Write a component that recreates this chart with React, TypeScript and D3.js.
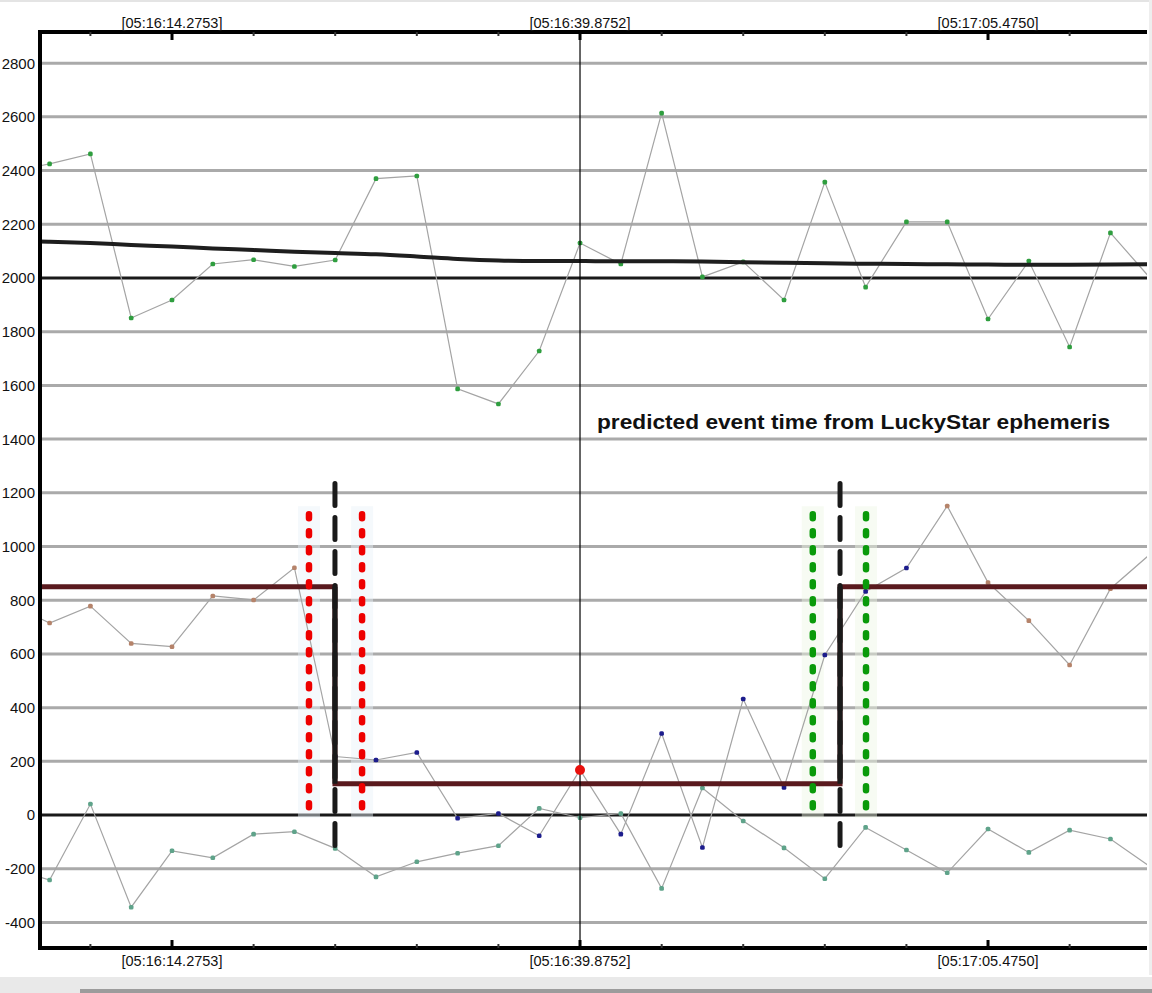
import { useMemo } from "react";
import * as d3 from "d3";

// seconds past 05:16:00 UT
const frameStart = 6.5953 - 2.56; // first (clipped) frame
const frameStep = 2.56;

// light curves, one value per frame (the first and last frames fall outside the plot)
const targetStar = [
	2395, 2425, 2462, 1851, 1918, 2052, 2068, 2043, 2067, 2370, 2380, 1587, 1531,
	1728, 2130, 2052, 2614, 2004, 2060, 1918, 2357, 1966, 2209, 2209, 1847, 2063,
	1743, 2168, 1995,
];
const targetTrend = [
	2140, 2135, 2130, 2123, 2117, 2110, 2104, 2098, 2093, 2088, 2080, 2071, 2065,
	2063, 2063, 2062, 2062, 2061, 2059, 2057, 2055, 2053, 2052, 2051, 2050, 2049,
	2049, 2050, 2051,
];
const occulted = [
	790, 715, 778, 639, 627, 816, 801, 921, 218, 205, 233, -12, 6, -77, 168, -71,
	304, -121, 432, 103, 596, 833, 920, 1151, 866, 724, 559, 843, 975,
];
const comparison = [
	-195, -242, 41, -343, -133, -159, -71, -62, -124, -230, -174, -142, -114, 25,
	-10, 6, -273, 101, -22, -122, -237, -46, -130, -215, -52, -139, -56, -89, -195,
];
// frames flagged as "during event" (blue markers)
const eventFrames = [8, 9, 10, 11, 12, 13, 14, 15, 16, 17, 18, 19, 20, 21, 22];
const selectedFrame = 14;

// event model
const baseLevel = 850;
const bottomLevel = 117;
const ingress = 24.5;
const egress = 56.19;
const ingressErr = [22.87, 26.2];
const egressErr = [54.48, 57.82];
const predicted = 39.8752;
const note = "predicted event time from LuckyStar ephemeris";

const majorTicks = [14.2753, 39.8752, 65.475];
const minorTicks = [9.1553, 19.3953, 24.5153, 29.6353, 34.7553, 45.0, 50.1152, 55.2352, 60.3552, 70.595];
const yTicks = [-400, -200, 0, 200, 400, 600, 800, 1000, 1200, 1400, 1600, 1800, 2000, 2200, 2400, 2600, 2800];
const darkGrid = [0, 2000];

const W = 1152;
const H = 993;
const L = 40;
const R = 1147;
const T = 32;
const B = 948;

function fmt(t: number) {
	const m = 16 + Math.floor(t / 60);
	const s = t - Math.floor(t / 60) * 60;
	const ss = s.toFixed(4).padStart(7, "0");
	return `[05:${String(m).padStart(2, "0")}:${ss}]`;
}

export default function App() {
	const x = useMemo(() => d3.scaleLinear().domain([5.993, 75.45]).range([L, R]), []);
	const y = useMemo(() => d3.scaleLinear().domain([-495, 2916]).range([B, T]), []);
	const ft = (i: number) => frameStart + frameStep * i;

	const line = d3
		.line<number>()
		.x((_, i) => x(ft(i)))
		.y((d) => y(d));
	const smooth = d3
		.line<number>()
		.x((_, i) => x(ft(i)))
		.y((d) => y(d))
		.curve(d3.curveMonotoneX);

	const step = [
		[x.domain()[0], baseLevel],
		[ingress, baseLevel],
		[ingress, bottomLevel],
		[egress, bottomLevel],
		[egress, baseLevel],
		[x.domain()[1], baseLevel],
	] as [number, number][];
	const stepPath = d3
		.line<[number, number]>()
		.x((d) => x(d[0]))
		.y((d) => y(d[1]))(step);

	const font = "'Liberation Sans', Arial, sans-serif";

	const markers = (vals: number[], color: (i: number) => string, key: string) =>
		vals.map((v, i) => (
			<rect
				key={key + i}
				x={x(ft(i)) - 2.3}
				y={y(v) - 2.3}
				width={4.6}
				height={4.6}
				rx={1.5}
				fill={color(i)}
			/>
		));

	return (
		<svg
			width={W}
			height={H}
			style={{ position: "absolute", left: 0, top: 0, background: "#fff" }}
		>
			<defs>
				<clipPath id="plot">
					<rect x={L} y={T} width={R - L} height={B - T} />
				</clipPath>
			</defs>
			<rect x={0} y={0} width={W} height={H} fill="#fff" />
			<rect x={0} y={0} width={W} height={2} fill="#e4e4e4" />
			<rect x={1149} y={0} width={3} height={975} fill="#eeeeee" />

			{/* grid */}
			{yTicks.map((v) => (
				<line
					key={"g" + v}
					x1={L}
					x2={R}
					y1={y(v)}
					y2={y(v)}
					stroke={darkGrid.includes(v) ? "#1a1a1a" : "#aaaaaa"}
					strokeWidth={3}
				/>
			))}

			<g clipPath="url(#plot)">
				{/* uncertainty halos */}
				{[...ingressErr, ...egressErr].map((t, k) => (
					<rect
						key={"h" + k}
						x={x(t) - 11}
						y={y(1150)}
						width={22}
						height={y(-10) - y(1150)}
						fill={k < 2 ? "#e8f2f8" : "#eef7e4"}
						opacity={0.45}
					/>
				))}

				{/* light curves */}
				<path d={line(targetStar) ?? ""} fill="none" stroke="#a4a4a4" strokeWidth={1.2} />
				<path d={line(occulted) ?? ""} fill="none" stroke="#a4a4a4" strokeWidth={1.2} />
				<path d={line(comparison) ?? ""} fill="none" stroke="#a4a4a4" strokeWidth={1.2} />
				{markers(targetStar, () => "#2f9e3f", "a")}
				{markers(
					occulted,
					(i) => (eventFrames.includes(i) ? "#1c1c8c" : "#b5836a"),
					"b",
				)}
				{markers(comparison, () => "#5fa38a", "c")}
				<path d={smooth(targetTrend) ?? ""} fill="none" stroke="#1e1e1e" strokeWidth={4} />

				{/* event model */}
				<path d={stepPath ?? ""} fill="none" stroke="#5a1a1e" strokeWidth={5} />
				{[ingress, egress].map((t) => (
					<line
						key={"v" + t}
						x1={x(t)}
						x2={x(t)}
						y1={y(baseLevel)}
						y2={y(bottomLevel)}
						stroke="#1a1a1a"
						strokeWidth={5}
					/>
				))}
				{[ingress, egress].map((t) => (
					<line
						key={"d" + t}
						x1={x(t)}
						x2={x(t)}
						y1={y(1235)}
						y2={y(-125)}
						stroke="#1a1a1a"
						strokeWidth={5}
						strokeDasharray="22 12"
						strokeLinecap="round"
					/>
				))}
				{[...ingressErr, ...egressErr].map((t, k) => (
					<line
						key={"e" + k}
						x1={x(t)}
						x2={x(t)}
						y1={y(1120)}
						y2={y(5)}
						stroke={k < 2 ? "#ee0000" : "#0a9a0a"}
						strokeWidth={6.5}
						strokeDasharray="4 13"
						strokeLinecap="round"
					/>
				))}

				{/* prediction */}
				<line x1={x(predicted)} x2={x(predicted)} y1={T} y2={B} stroke="#000" strokeWidth={1.2} />
				<circle cx={x(ft(selectedFrame))} cy={y(occulted[selectedFrame])} r={5} fill="#e8100c" />
			</g>

			<text
				x={597}
				y={429}
				fontFamily={font}
				fontWeight="bold"
				fontSize={21}
				textLength={513}
				lengthAdjust="spacingAndGlyphs"
				fill="#111"
			>
				{note}
			</text>

			{/* axes */}
			<line x1={L} x2={L} y1={T - 2} y2={B + 2} stroke="#000" strokeWidth={4} />
			<line x1={L - 2} x2={R} y1={T} y2={T} stroke="#000" strokeWidth={4} />
			<line x1={L - 2} x2={R} y1={B} y2={B} stroke="#000" strokeWidth={4} />
			{minorTicks.map((t) => (
				<g key={"m" + t}>
					<line x1={x(t)} x2={x(t)} y1={T} y2={T + 4} stroke="#333" strokeWidth={2} />
					<line x1={x(t)} x2={x(t)} y1={B} y2={B - 4} stroke="#333" strokeWidth={2} />
				</g>
			))}
			{majorTicks.map((t) => (
				<g key={"M" + t}>
					<line x1={x(t)} x2={x(t)} y1={T} y2={T + 8} stroke="#000" strokeWidth={3} />
					<line x1={x(t)} x2={x(t)} y1={B} y2={B - 8} stroke="#000" strokeWidth={3} />
					<text
						x={x(t) - 50.5}
						y={27.5}
						fontFamily={font}
						fontSize={14.5}
						textLength={101}
						lengthAdjust="spacingAndGlyphs"
						fill="#111"
					>
						{fmt(t)}
					</text>
					<text
						x={x(t) - 50.5}
						y={966}
						fontFamily={font}
						fontSize={14.5}
						textLength={101}
						lengthAdjust="spacingAndGlyphs"
						fill="#111"
					>
						{fmt(t)}
					</text>
				</g>
			))}
			{yTicks.map((v) => (
				<text
					key={"y" + v}
					x={35}
					y={y(v)}
					dy="0.36em"
					textAnchor="end"
					fontFamily={font}
					fontSize={15}
					fill="#111"
				>
					{v}
				</text>
			))}

			{/* window scrollbar strip */}
			<rect x={0} y={977} width={W} height={16} fill="#e9e9e9" />
			<rect x={80} y={989} width={W - 80} height={4} fill="#9c9c9c" />
		</svg>
	);
}
